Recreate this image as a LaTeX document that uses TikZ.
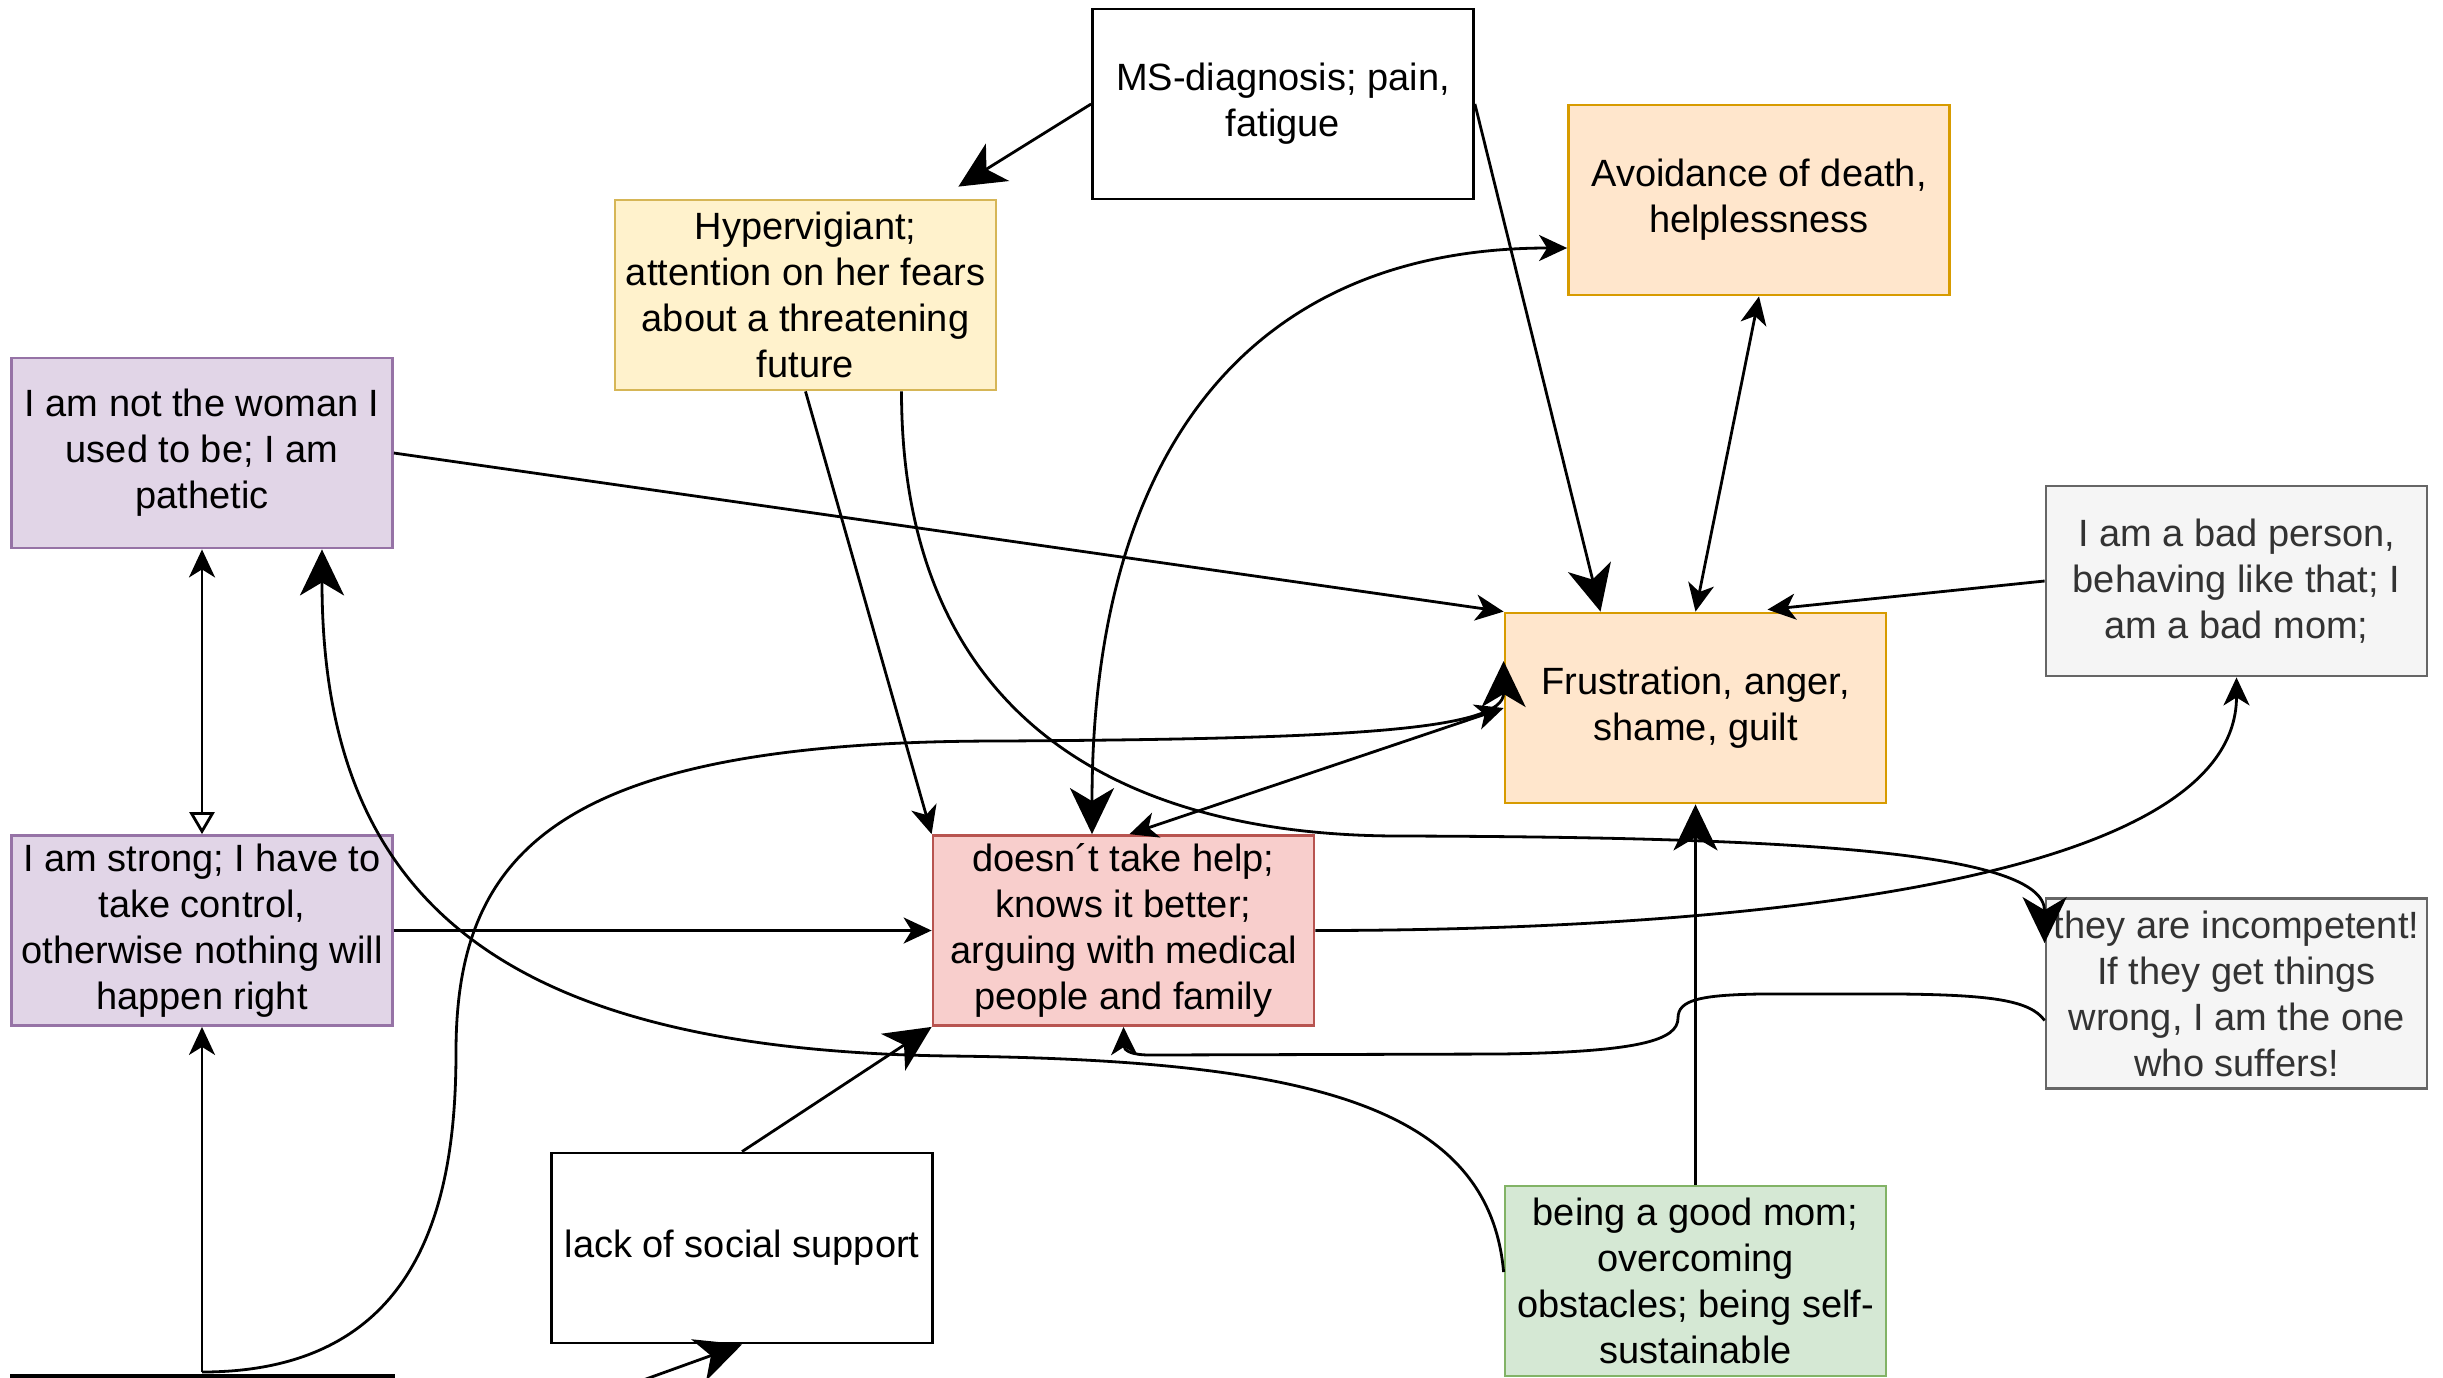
\documentclass[tikz,border=0pt]{standalone}
\usepackage{fontspec}
\setmainfont{Liberation Sans}
\usetikzlibrary{arrows.meta,calc}
\definecolor{orF}{HTML}{FFE6CC}\definecolor{orD}{HTML}{D79B00}
\definecolor{yeF}{HTML}{FFF2CC}\definecolor{yeD}{HTML}{D6B656}
\definecolor{puF}{HTML}{E1D5E7}\definecolor{puD}{HTML}{9673A6}
\definecolor{reF}{HTML}{F8CECC}\definecolor{reD}{HTML}{B85450}
\definecolor{grF}{HTML}{F5F5F5}\definecolor{grD}{HTML}{666666}\definecolor{grT}{HTML}{333333}
\definecolor{gnF}{HTML}{D5E8D4}\definecolor{gnD}{HTML}{82B366}
\tikzset{
  sm/.tip={Stealth[length=28pt,width=26pt,inset=8pt]},
  bg/.tip={Stealth[length=46pt,width=44pt,inset=13pt]},
  op/.tip={Triangle[open,fill=white,length=22pt,width=25pt]},
}
\begin{document}
\begin{tikzpicture}[x=1pt,y=-1pt,
  box/.style={draw=black,fill=white,line width=2.8pt,minimum width=381pt,minimum height=190pt,inner sep=0pt,align=center,font=\fontsize{38}{46}\selectfont},
  orbox/.style={box,fill=orF,draw=orD},
  yebox/.style={box,fill=yeF,draw=yeD},
  pubox/.style={box,fill=puF,draw=puD},
  rebox/.style={box,fill=reF,draw=reD},
  grbox/.style={box,fill=grF,draw=grD,text=grT},
  gnbox/.style={box,fill=gnF,draw=gnD},
  con/.style={line width=2.8pt,draw=black},
]
\useasboundingbox (0,0) rectangle (2443,1377);
\clip (0,0) rectangle (2443,1377);
\fill[white] (0,0) rectangle (2443,1377);

% nodes
\node[box]   (ms) at (1283,104)    {MS-diagnosis; pain,\\fatigue};
\node[orbox] (av) at (1759,200)    {Avoidance of death,\\helplessness};
\node[yebox] (hy) at (805.5,295)   {Hypervigiant;\\attention on her fears\\about a threatening\\future};
\node[pubox] (wo) at (202,453)     {I am not the woman I\\used to be; I am\\pathetic};
\node[grbox] (bp) at (2236.5,581)  {I am a bad person,\\behaving like that; I\\am a bad mom;};
\node[orbox] (fr) at (1695.5,708)  {Frustration, anger,\\shame, guilt};
\node[pubox] (st) at (202,930.5)   {I am strong; I have to\\take control,\\otherwise nothing will\\happen right};
\node[rebox] (dn) at (1123.5,930.5){doesn´t take help;\\knows it better;\\arguing with medical\\people and family};
\node[grbox] (ic) at (2236.5,993.5){they are incompetent!\\If they get things\\wrong, I am the one\\who suffers!};
\node[box]   (lk) at (742,1248)    {lack of social support};
\node[gnbox] (gm) at (1695.5,1281) {being a good mom;\\overcoming\\obstacles; being self-\\sustainable};
\node[box,line width=4pt] (bx) at (202,1471) {};
\coordinate (e19) at (560,1410);

% connectors
\draw[con,-bg] (ms.west) -- ($(hy.north east)+(-39,-12)$);
\draw[con,-bg] (ms.east) -- ([xshift=-95pt]fr.north);
\draw[con,sm-sm] (av.south) -- (fr.north);
\draw[con,-sm] (wo.east) -- (fr.north west);
\draw[con,-sm] (bp.west) -- ($(fr.north)+(72,-2)$);
\draw[con,sm-op] (wo.south) -- (st.north);
\draw[con,-sm] (st.east) -- (dn.west);
\draw[con,-sm] (hy.south) -- (dn.north west);
\draw[con,-bg] ([xshift=96pt]hy.south) .. controls +(0,310) and (1100,836) .. (1400,836)
   .. controls (1800,837) and ($(ic.north west)+(0,-45)$) .. ($(ic.north west)+(0,46)$);
\draw[con,sm-bg] ([yshift=-48pt]av.west) .. controls +(-320,0) and +(0,-380) .. ([xshift=-31.5pt]dn.north);
\draw[con,sm-sm] ([xshift=6pt]dn.north) -- (fr.west);
\draw[con,-sm] ([yshift=2pt]bx.north) -- (st.south);
\draw[con,-bg] ([yshift=2pt]bx.north) .. controls +(220,0) and (456,1200) .. (456,1052)
   .. controls (456,850) and (560,741) .. (1000,741)
   .. controls (1350,739) and ($(fr.west)+(0,22)$) .. ([yshift=47pt]fr.west);
\draw[con,-sm] (dn.east) .. controls +(385,0) and +(0,213) .. (bp.south);
\draw[con,-sm] ([yshift=-27pt]ic.west) .. controls (2030,1000) and (1990,995) .. (1900,994) -- (1760,994)
   .. controls (1700,995) and (1678,1000) .. (1678,1018)
   .. controls (1678,1040) and (1640,1052) .. (1500,1054) -- (1150,1055)
   .. controls (1130,1055) and (1124,1050) .. (dn.south);
\draw[con,-bg] ([yshift=9pt]gm.west) .. controls +(-15,-170) and (1300,1060) .. (950,1056)
   .. controls (500,1050) and (322,900) .. ([xshift=120pt]wo.south);
\draw[con,-bg] (gm.north) -- (fr.south);
\draw[con,-bg] (lk.north) -- (dn.south west);
\draw[con,-bg] (e19) -- (lk.south);
\end{tikzpicture}
\end{document}
